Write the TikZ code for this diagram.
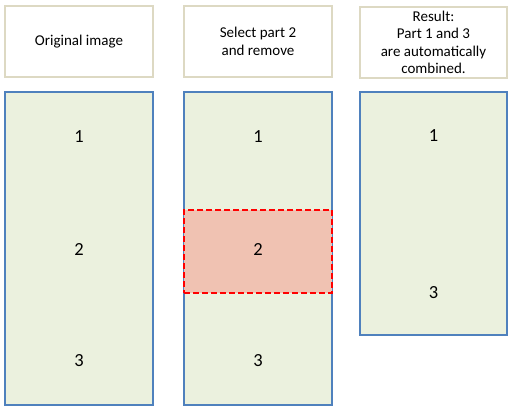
\documentclass[tikz,border=0pt]{standalone}
\usepackage{fontspec}
\setmainfont{Carlito}
\usetikzlibrary{positioning}
\definecolor{tan}{HTML}{DDD9C3}
\definecolor{cblue}{HTML}{4F81BD}
\definecolor{pale}{HTML}{EBF1DE}
\definecolor{pink}{HTML}{F0C2B2}
\definecolor{cred}{HTML}{FF0000}
\tikzset{
  txt/.style={font=\fontsize{15}{17.5}\selectfont, text=black, align=center},
  head/.style={txt, draw=tan, fill=white, line width=2pt, minimum width=148pt, minimum height=71pt, inner sep=0pt},
  strip/.style={draw=cblue, fill=pale, line width=1.8pt, minimum width=148pt, inner sep=0pt},
  cut/.style={draw=cred, fill=pink, line width=1.8pt, dash pattern=on 6pt off 3pt, minimum width=148pt, minimum height=83pt, inner sep=0pt},
  num/.style={font=\fontsize{18.5}{20}\selectfont, text=black, inner sep=0pt},
}

\begin{document}
\begin{tikzpicture}[x=1pt,y=-1pt]
  \useasboundingbox (0,0) rectangle (514,411);
  % headings
  \node[head] (orig) at (79,41.5) {Original image};
  \node[head] (select) at (258,41.5) {Select part 2\\and remove};
  \node[head, minimum width=147pt] (result) at (433.5,42.5) {Result:\\Part 1 and 3\\are automatically\\combined.};
  % image strips
  \node[strip, minimum height=313pt] (img1) at (79,248.5) {};
  \node[strip, minimum height=313pt] (img2) at (258,248.5) {};
  \node[strip, minimum width=147pt, minimum height=243pt] (img3) at (433.5,213.5) {};
  \node[cut] (part) at (258,251.5) {};
  % part numbers
  \foreach \n/\x/\y/\t in {a1/79/137/1, a2/79/249/2, a3/79/361/3, b1/258/137/1, b3/258/361/3, c1/433.5/136/1, c3/433.5/293/3}
    \node[num] (\n) at (\x,\y) {\t};
  \node[num] (b2) at (258,249) {2};
\end{tikzpicture}
\end{document}
